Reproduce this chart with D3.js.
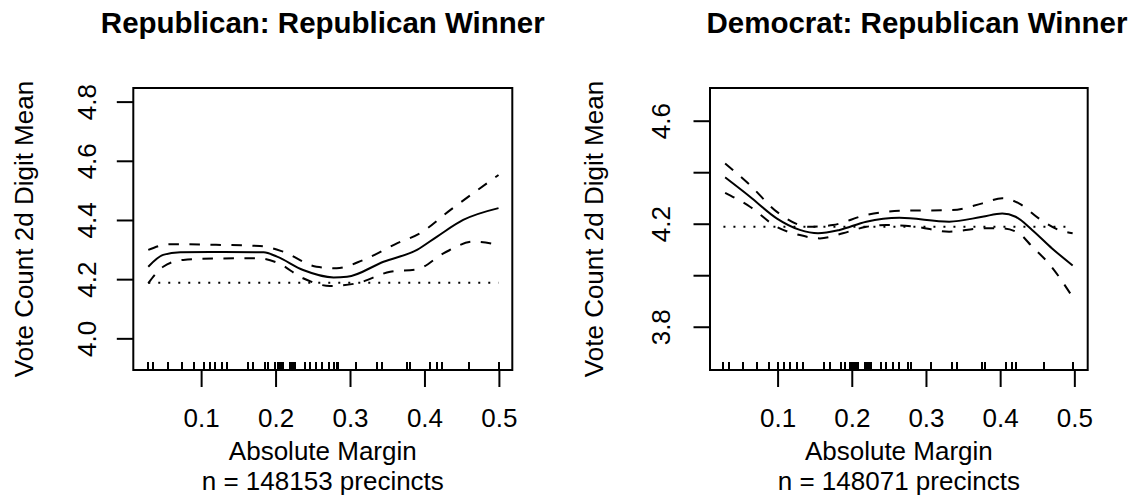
<!DOCTYPE html>
<html>
<head>
<meta charset="utf-8">
<script src="https://d3js.org/d3.v7.min.js"></script>
<style>
  body { margin: 0; background: #fff; }
  svg text { font-family: "Liberation Sans", Arial, Helvetica, sans-serif; fill: #000; }
</style>
</head>
<body>
<div id="chart"></div>
<script>

// x axis ticks (both panels)
var x_ticks = [0.1, 0.2, 0.3, 0.4, 0.5];

// left panel: Republican
var rep_y_ticks = [4.0, 4.2, 4.4, 4.6, 4.8];
var rep_y_labels = [4.0, 4.2, 4.4, 4.6, 4.8];
var rep_fit_x = [0.029, 0.049, 0.072, 0.13, 0.184, 0.202, 0.237, 0.278, 0.296, 0.345, 0.39, 0.417, 0.452, 0.4995];
var rep_fit_y = [4.242, 4.282, 4.291, 4.292, 4.291, 4.276, 4.231, 4.206, 4.208, 4.259, 4.299, 4.344, 4.4, 4.44];
var rep_hi_x = [0.029, 0.058, 0.12, 0.179, 0.21, 0.255, 0.282, 0.318, 0.363, 0.394, 0.435, 0.4995];
var rep_hi_y = [4.299, 4.318, 4.316, 4.312, 4.293, 4.242, 4.237, 4.265, 4.321, 4.355, 4.434, 4.552];
var rep_lo_x = [0.029, 0.049, 0.076, 0.125, 0.175, 0.202, 0.237, 0.273, 0.309, 0.354, 0.39, 0.4255, 0.466, 0.4995];
var rep_lo_y = [4.186, 4.242, 4.265, 4.27, 4.271, 4.256, 4.203, 4.177, 4.186, 4.225, 4.233, 4.287, 4.327, 4.316];
var rep_mean = 4.188;
var rep_rug = [0.029, 0.0358, 0.0551, 0.0748, 0.0909, 0.1039, 0.112, 0.1187, 0.1277, 0.1344,
	0.1634, 0.1702, 0.186, 0.19, 0.1993, 0.2038, 0.206, 0.2083, 0.2105, 0.2195, 0.2217, 0.224, 0.2262,
	0.2397, 0.2464, 0.254, 0.263, 0.272, 0.279, 0.282, 0.2845, 0.3078, 0.3368, 0.3427,
	0.3763, 0.3808, 0.4077, 0.4175, 0.4234, 0.46, 0.4995];

// right panel: Democrat
var dem_y_ticks = [3.8, 4.0, 4.2, 4.4, 4.6];
var dem_y_labels = [3.8, 4.2, 4.6];
var dem_fit_x = [0.0293, 0.0628, 0.0987, 0.13, 0.1545, 0.1836, 0.2195, 0.2642, 0.3313, 0.376, 0.4028, 0.4208, 0.4431, 0.47, 0.4977];
var dem_fit_y = [4.38, 4.305, 4.221, 4.176, 4.163, 4.176, 4.208, 4.223, 4.208, 4.227, 4.24, 4.227, 4.176, 4.104, 4.038];
var dem_hi_x = [0.0293, 0.0628, 0.0987, 0.1432, 0.1746, 0.2195, 0.2642, 0.3357, 0.376, 0.4028, 0.4253, 0.452, 0.479, 0.4977];
var dem_hi_y = [4.434, 4.35, 4.247, 4.188, 4.195, 4.234, 4.25, 4.253, 4.279, 4.299, 4.279, 4.221, 4.176, 4.163];
var dem_lo_x = [0.0293, 0.0628, 0.0987, 0.13, 0.157, 0.188, 0.2195, 0.2463, 0.2866, 0.3313, 0.376, 0.4028, 0.4253, 0.4431, 0.4655, 0.4977];
var dem_lo_y = [4.32, 4.266, 4.188, 4.156, 4.143, 4.163, 4.188, 4.195, 4.188, 4.169, 4.182, 4.182, 4.163, 4.111, 4.046, 3.915];
var dem_mean = 4.188;
var dem_rug = [0.027, 0.035, 0.0538, 0.0726, 0.0887, 0.1008, 0.1085, 0.1165, 0.1255, 0.1344,
	0.1622, 0.1702, 0.1859, 0.1903, 0.197, 0.2, 0.203, 0.206, 0.2083, 0.2172, 0.22, 0.2226, 0.2262,
	0.2396, 0.2463, 0.2552, 0.2642, 0.2753, 0.2798, 0.3067, 0.3357, 0.3424,
	0.376, 0.3796, 0.4074, 0.4163, 0.4216, 0.4597, 0.4977];

// chart options
var width = 1136, height = 502;
var lineW = 2;
var fontSize = "26px";

var svg = d3.select("#chart").append("svg")
	.attr("width", width)
	.attr("height", height);

svg.append("rect").attr("width", width).attr("height", height).attr("fill", "#fff");

function zip(xs, ys){
	return xs.map(function(x, i){ return [x, ys[i]]; });
}

/**
 *	draw one panel, base-R style
 */
function draw_panel(o){

	var x = d3.scaleLinear().domain([0.0089, 0.518]).range([o.left, o.right]);
	var y = d3.scaleLinear().domain(o.ydomain).range([o.bottom, o.top]);

	var g = svg.append("g");

	var line = d3.line()
		.x(function(d){ return x(d[0]); })
		.y(function(d){ return y(d[1]); })
		.curve(d3.curveMonotoneX);

	// reference mean (dotted)
	g.append("path")
		.datum([[o.rug[0], o.mean], [o.rug[o.rug.length - 1], o.mean]])
		.attr("d", line)
		.attr("fill", "none").attr("stroke", "#000")
		.attr("stroke-width", lineW)
		.attr("stroke-dasharray", "2,8");

	// confidence bands (dashed)
	[o.hi, o.lo].forEach(function(pts){
		g.append("path")
			.datum(pts)
			.attr("d", line)
			.attr("fill", "none").attr("stroke", "#000")
			.attr("stroke-width", lineW)
			.attr("stroke-dasharray", "10.5,10.5");
	});

	// fit (solid)
	g.append("path")
		.datum(o.fit)
		.attr("d", line)
		.attr("fill", "none").attr("stroke", "#000")
		.attr("stroke-width", lineW);

	// rug
	g.append("g").selectAll("line")
		.data(o.rug)
		.enter().append("line")
		.attr("x1", function(d){ return Math.round(x(d)); })
		.attr("x2", function(d){ return Math.round(x(d)); })
		.attr("y1", o.bottom)
		.attr("y2", o.bottom - 8)
		.attr("stroke", "#000")
		.attr("stroke-width", 2)
		.attr("shape-rendering", "crispEdges");

	// x axis
	var xa = g.append("g")
		.attr("transform", "translate(0," + o.bottom + ")")
		.call(d3.axisBottom(x).tickValues(x_ticks).tickSize(17).tickSizeOuter(0).tickFormat(d3.format(".1f")));
	xa.select(".domain").remove();
	xa.selectAll(".tick line").attr("stroke", "#000").attr("stroke-width", 2);
	xa.selectAll(".tick text")
		.attr("y", 57).attr("dy", 0)
		.attr("font-size", fontSize);

	// y axis
	var ya = g.append("g")
		.attr("transform", "translate(" + o.left + ",0)")
		.call(d3.axisLeft(y).tickValues(o.yticks).tickSize(16.5).tickSizeOuter(0)
			.tickFormat(function(d){ return o.ylabels.indexOf(d) >= 0 ? d3.format(".1f")(d) : ""; }));
	ya.select(".domain").remove();
	ya.selectAll(".tick line").attr("stroke", "#000").attr("stroke-width", 2);
	ya.selectAll(".tick text")
		.attr("x", 0).attr("y", 0).attr("dy", 0)
		.attr("text-anchor", "middle")
		.attr("transform", "translate(" + o.ylabx + ",0) rotate(-90)")
		.attr("font-size", fontSize);

	// box
	g.append("rect")
		.attr("x", o.left).attr("y", o.top)
		.attr("width", o.right - o.left).attr("height", o.bottom - o.top)
		.attr("fill", "none").attr("stroke", "#000").attr("stroke-width", 2);

	// titles
	g.append("text")
		.attr("x", o.titlex).attr("y", 33)
		.attr("text-anchor", "middle")
		.attr("font-weight", "bold").attr("font-size", "29.5px")
		.text(o.title);

	var cx = (o.left + o.right) / 2;
	g.append("text")
		.attr("x", cx).attr("y", 460)
		.attr("text-anchor", "middle").attr("font-size", fontSize)
		.text("Absolute Margin");
	g.append("text")
		.attr("x", cx).attr("y", 490)
		.attr("text-anchor", "middle").attr("font-size", fontSize)
		.text(o.sub);

	g.append("text")
		.attr("transform", "translate(" + (o.left + o.ytitlex) + "," + ((o.top + o.bottom) / 2) + ") rotate(-90)")
		.attr("text-anchor", "middle").attr("font-size", fontSize)
		.text("Vote Count 2d Digit Mean");
}

draw_panel({
	left: 133.3, right: 512.3, top: 88, bottom: 370,
	ydomain: [3.893, 4.846],
	yticks: rep_y_ticks, ylabels: rep_y_labels, ylabx: -37, ytitlex: -100,
	fit: zip(rep_fit_x, rep_fit_y), hi: zip(rep_hi_x, rep_hi_y), lo: zip(rep_lo_x, rep_lo_y),
	mean: rep_mean, rug: rep_rug,
	title: "Republican: Republican Winner", titlex: 322.8,
	sub: "n = 148153 precincts"
});

draw_panel({
	left: 710, right: 1087.7, top: 88, bottom: 370,
	ydomain: [3.632, 4.727],
	yticks: dem_y_ticks, ylabels: dem_y_labels, ylabx: -40, ytitlex: -106.7,
	fit: zip(dem_fit_x, dem_fit_y), hi: zip(dem_hi_x, dem_hi_y), lo: zip(dem_lo_x, dem_lo_y),
	mean: dem_mean, rug: dem_rug,
	title: "Democrat: Republican Winner", titlex: 917,
	sub: "n = 148071 precincts"
});

</script>
</body>
</html>
